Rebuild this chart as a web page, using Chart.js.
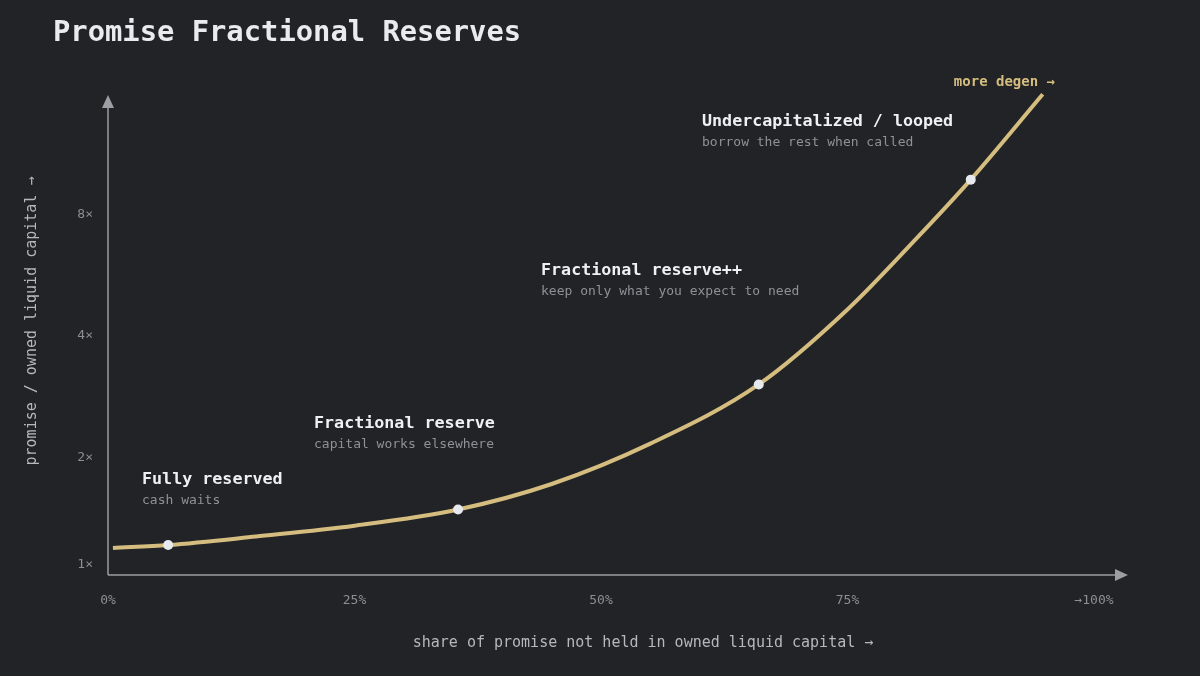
<!DOCTYPE html>
<html>
<head>
<meta charset="utf-8">
<title>Promise Fractional Reserves</title>
<script src="https://cdn.jsdelivr.net/npm/chart.js@4"></script>
<style>
    html, body { margin: 0; padding: 0; background: #212327; }
    #wrap { width: 1200px; height: 676px; position: relative; }
</style>
</head>
<body>
<div id="wrap"><canvas id="reserveChart" width="1200" height="676"></canvas></div>
<script>
// Data (x = % of promise not held, y = promise / owned capital)
const shareNotHeld = [0.5, 6.1, 15, 25, 35.5, 45, 55, 66, 75, 82, 87.5, 94.8];
const leverage = [1.18, 1.2, 1.26, 1.34, 1.47, 1.7, 2.14, 3.0, 4.6, 6.9, 9.65, 15.7];
const markedPoints = [6.1, 35.5, 66, 87.5];

const xTicks = [0, 25, 50, 75, 100];
const xTickLabels = ['0%', '25%', '50%', '75%', '→100%'];
const yTicks = [1, 2, 4, 8];
const yTickLabels = ['1×', '2×', '4×', '8×'];

const noteTitles = ['Fully reserved', 'Fractional reserve', 'Fractional reserve++', 'Undercapitalized / looped'];
const noteSubs = ['cash waits', 'capital works elsewhere', 'keep only what you expect to need', 'borrow the rest when called'];

const MONO = '"DejaVu Sans Mono", "Liberation Mono", monospace';
const GOLD = '#d4bd7e';

// Text, axes and arrows drawn on the canvas around the plot
const decorPlugin = {
    id: 'decor',
    beforeDatasetsDraw(chart) {
        const { ctx, chartArea: a, scales } = chart;
        const axisY = a.bottom - 2;
        ctx.save();
        ctx.strokeStyle = '#9b9ea4';
        ctx.fillStyle = '#9b9ea4';
        ctx.lineWidth = 1.5;
        // y axis
        ctx.beginPath();
        ctx.moveTo(a.left, axisY);
        ctx.lineTo(a.left, a.top + 14);
        ctx.stroke();
        ctx.beginPath();
        ctx.moveTo(a.left, a.top + 4);
        ctx.lineTo(a.left - 6, a.top + 17);
        ctx.lineTo(a.left + 6, a.top + 17);
        ctx.closePath();
        ctx.fill();
        // x axis
        const xEnd = a.right + 34;
        ctx.beginPath();
        ctx.moveTo(a.left, axisY);
        ctx.lineTo(xEnd - 10, axisY);
        ctx.stroke();
        ctx.beginPath();
        ctx.moveTo(xEnd, axisY);
        ctx.lineTo(xEnd - 13, axisY - 6);
        ctx.lineTo(xEnd - 13, axisY + 6);
        ctx.closePath();
        ctx.fill();

        // tick labels
        ctx.font = '13px ' + MONO;
        ctx.fillStyle = '#8b8e95';
        ctx.textBaseline = 'middle';
        ctx.textAlign = 'center';
        xTicks.forEach((v, i) => {
            ctx.fillText(xTickLabels[i], scales.x.getPixelForValue(v), a.bottom + 24);
        });
        ctx.textAlign = 'right';
        yTicks.forEach((v, i) => {
            let py = scales.y.getPixelForValue(v) + 2;
            if (i === 0) py -= 14; // keep 1× clear of the x axis
            ctx.fillText(yTickLabels[i], a.left - 15, py);
        });

        // axis titles
        ctx.font = '15px ' + MONO;
        ctx.fillStyle = '#b5b8be';
        ctx.textAlign = 'center';
        ctx.fillText('share of promise not held in owned liquid capital →', 643, 643);
        ctx.save();
        ctx.translate(32, 321);
        ctx.rotate(-Math.PI / 2);
        ctx.fillText('promise / owned liquid capital →', 0, 0);
        ctx.restore();

        // notes
        const notePos = [[142, 480], [314, 424], [541, 271], [702, 122]];
        ctx.textAlign = 'left';
        noteTitles.forEach((t, i) => {
            const [nx, ny] = notePos[i];
            ctx.font = 'bold 16.7px ' + MONO;
            ctx.fillStyle = '#eef0f3';
            ctx.fillText(t, nx, ny);
            ctx.font = '13px ' + MONO;
            ctx.fillStyle = '#8e9197';
            ctx.fillText(noteSubs[i], nx, ny + 21);
        });

        ctx.font = 'bold 14px ' + MONO;
        ctx.fillStyle = GOLD;
        ctx.textAlign = 'right';
        ctx.fillText('more degen →', 1055, 82);

        // title
        ctx.font = 'bold 28.8px ' + MONO;
        ctx.fillStyle = '#e9ebef';
        ctx.textAlign = 'left';
        ctx.fillText('Promise Fractional Reserves', 53, 34);
        ctx.restore();
    }
};

const ctx = document.getElementById('reserveChart').getContext('2d');
new Chart(ctx, {
    type: 'line',
    data: {
        datasets: [{
            data: shareNotHeld.map((x, i) => ({ x: x, y: leverage[i] })),
            borderColor: GOLD,
            borderWidth: 4,
            cubicInterpolationMode: 'monotone',
            pointRadius: shareNotHeld.map(x => markedPoints.includes(x) ? 5 : 0),
            pointBackgroundColor: '#e8e9ee',
            pointBorderWidth: 0,
            fill: false
        }]
    },
    options: {
        responsive: false,
        animation: false,
        layout: { padding: { left: 108, right: 106, top: 91, bottom: 99 } },
        plugins: {
            legend: { display: false },
            tooltip: { enabled: false }
        },
        scales: {
            x: { type: 'linear', min: 0, max: 100, display: false },
            y: { type: 'logarithmic', min: 1, max: 16, display: false }
        }
    },
    plugins: [decorPlugin]
});
</script>
</body>
</html>
